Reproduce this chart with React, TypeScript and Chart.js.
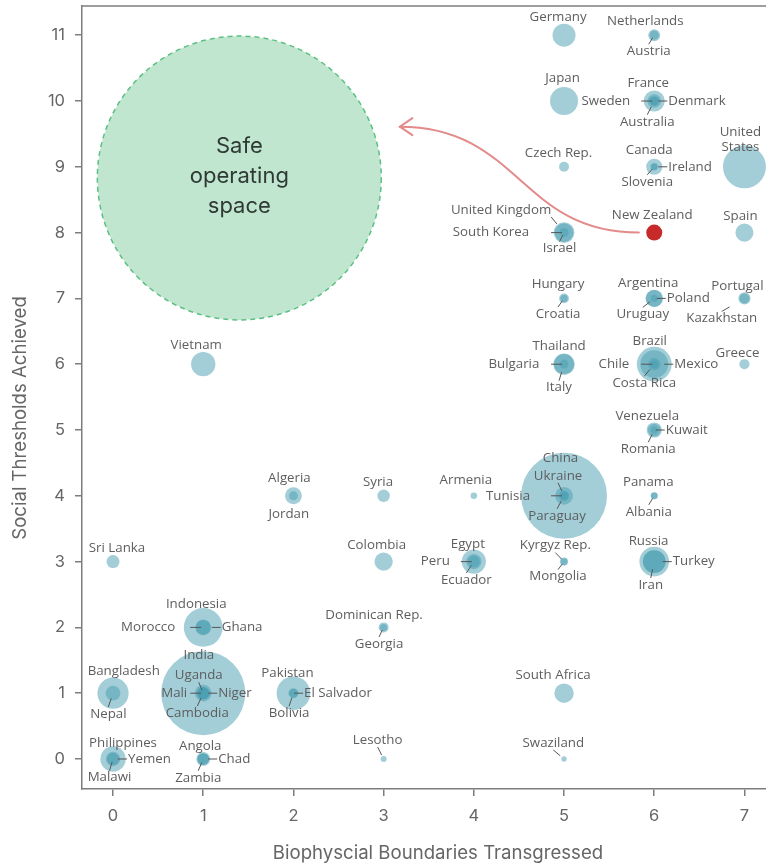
import React, { useEffect, useRef } from "react";
import { Chart, registerables, BubbleController } from "chart.js";

Chart.register(...registerables);

// bubble controller that does not reserve extra layout padding for its largest bubble
class FlatBubbleController extends BubbleController {
  getMaxOverflow() {
    return 0;
  }
}
(FlatBubbleController as any).id = "flatBubble";
(FlatBubbleController as any).defaults = (BubbleController as any).defaults;
(FlatBubbleController as any).overrides = (BubbleController as any).overrides;
Chart.register(FlatBubbleController as any);

// ---------- data ----------
const COUNTRIES = [
  "Germany", "Netherlands", "Austria", "Japan", "France", "Sweden", "Denmark", "Australia",
  "United States", "Czech Rep.", "Canada", "Ireland", "Slovenia", "United Kingdom", "South Korea", "Israel",
  "New Zealand", "Spain", "Hungary", "Croatia", "Argentina", "Poland", "Uruguay", "Portugal",
  "Kazakhstan", "Vietnam", "Thailand", "Bulgaria", "Italy", "Brazil", "Chile", "Mexico",
  "Costa Rica", "Greece", "Venezuela", "Kuwait", "Romania", "Algeria", "Jordan", "Syria",
  "Armenia", "China", "Ukraine", "Tunisia", "Paraguay", "Panama", "Albania", "Sri Lanka",
  "Colombia", "Egypt", "Peru", "Ecuador", "Kyrgyz Rep.", "Mongolia", "Russia", "Turkey",
  "Iran", "Indonesia", "Morocco", "Ghana", "Dominican Rep.", "Georgia", "Bangladesh", "Nepal",
  "India", "Uganda", "Mali", "Niger", "Cambodia", "Pakistan", "El Salvador", "Bolivia",
  "South Africa", "Lesotho", "Swaziland", "Philippines", "Yemen", "Malawi", "Angola", "Chad",
  "Zambia",
];

const BOUNDARIES = [
  5, 6, 6, 5, 6, 6, 6, 6,
  7, 5, 6, 6, 6, 5, 5, 5,
  6, 7, 5, 5, 6, 6, 6, 7,
  7, 1, 5, 5, 5, 6, 6, 6,
  6, 7, 6, 6, 6, 2, 2, 3,
  4, 5, 5, 5, 5, 6, 6, 0,
  3, 4, 4, 4, 5, 5, 6, 6,
  6, 1, 1, 1, 3, 3, 0, 0,
  1, 1, 1, 1, 1, 2, 2, 2,
  5, 3, 5, 0, 0, 0, 1, 1,
  1,
];

const THRESHOLDS = [
  11, 11, 11, 10, 10, 10, 10, 10,
  9, 9, 9, 9, 9, 8, 8, 8,
  8, 8, 7, 7, 7, 7, 7, 7,
  7, 6, 6, 6, 6, 6, 6, 6,
  6, 6, 5, 5, 5, 4, 4, 4,
  4, 4, 4, 4, 4, 4, 4, 3,
  3, 3, 3, 3, 3, 3, 3, 3,
  3, 2, 2, 2, 2, 2, 1, 1,
  1, 1, 1, 1, 1, 1, 1, 1,
  1, 0, 0, 0, 0, 0, 0, 0,
  0,
];

// population, millions
const POPULATION = [
  81, 16.9, 8.6, 127, 66, 9.7, 5.6, 23.5,
  320, 10.5, 35.5, 4.6, 2.06, 64.5, 50.4, 8.2,
  4.5, 46.4, 9.9, 4.2, 43, 38, 3.4, 10.4,
  17.5, 92, 68, 7.2, 60.7, 204, 17.8, 125,
  4.8, 10.9, 31, 3.9, 19.9, 39.7, 7.6, 18.7,
  3.0, 1371, 45, 11.1, 6.6, 3.9, 2.9, 21,
  48, 91, 31, 16, 5.9, 3.0, 144, 78.7,
  79, 258, 34, 27.4, 10.5, 3.7, 161, 28.5,
  1311, 39, 17.5, 19.9, 15.6, 189, 6.3, 10.7,
  55, 2.1, 1.3, 101, 26.8, 17.2, 25, 14,
  16,
];

const X_TICKS = [0, 1, 2, 3, 4, 5, 6, 7];
const Y_TICKS = [0, 1, 2, 3, 4, 5, 6, 7, 8, 9, 10, 11];
const HIGHLIGHT = "New Zealand";
const X_TITLE = "Biophyscial Boundaries Transgressed";
const Y_TITLE = "Social Thresholds Achieved";
const SAFE_SPACE_TEXT = ["Safe", "operating", "space"];
const LABEL_LINES: Record<string, string[]> = { "United States": ["United", "States"] };

// ---------- annotation layout ----------
// label placement per country: [align, dx, dy, leader]
// align: c = centred text, e = text ends left of point, s = text starts right of point
const LABEL_LAYOUT: [string, number, number, boolean][] = [
  ["c", -6, -18, false], ["c", -9, -14, false], ["c", -5.5, 16, true], ["c", -1.5, -22.7, false],
  ["c", -6, -17.7, false], ["e", -24, 0, true], ["s", 14, 0, true], ["c", -7, 20.7, true],
  ["c", -4, -27.5, false], ["c", -5.5, -13.5, false], ["c", -5, -17, false], ["s", 14, 0, true],
  ["c", -7, 15, true], ["c", -63, -22.6, true], ["e", -35, 0, true], ["c", -4.5, 16, true],
  ["c", -2, -17.6, false], ["c", -4, -16, false], ["c", -6, -14, false], ["c", -6, 15.6, true],
  ["c", -6, -15, false], ["s", 12.5, 0, true], ["c", -11.5, 16, true], ["c", -7, -12.4, false],
  ["c", -22.7, 20, true], ["c", -7, -19, false], ["c", -5, -18, false], ["e", -24.7, 0, true],
  ["c", -5, 23.5, true], ["c", -4.5, -22.5, false], ["e", -25, 0, true], ["s", 20, 0, true],
  ["c", -10, 19, true], ["c", -7, -11, false], ["c", -7, -14, false], ["s", 11.5, 0, true],
  ["c", -6, 19.3, true], ["c", -4, -17.5, false], ["c", -4.7, 18, false], ["c", -5.6, -14, false],
  ["c", -8, -16, false], ["c", -3.5, -37.5, false], ["c", -6, -20, true], ["e", -34, 0, true],
  ["c", -7, 20, true], ["c", -6, -13.5, false], ["c", -5.5, 16, true], ["c", 4, -13, false],
  ["c", -7, -16, false], ["c", -6, -17.3, false], ["e", -24, 0, true], ["c", -7.5, 18.4, true],
  ["c", -8.7, -16, true], ["c", -6, 15, true], ["c", -5.7, -20, false], ["s", 18.5, 0, true],
  ["c", -3.5, 23.4, true], ["c", -7, -23, false], ["e", -28, 0, true], ["s", 18.5, 0, true],
  ["c", -9.6, -12.4, false], ["c", -4.6, 16.6, true], ["c", 10.7, -22, false], ["c", -4.7, 20.8, true],
  ["c", -4.4, -38, false], ["c", -4.5, -18, true], ["e", -16, 0, true], ["s", 15, 0, true],
  ["c", -6, 20, true], ["c", -6, -20, false], ["s", 10.6, 0, true], ["c", -4.4, 20, true],
  ["c", -11, -18, false], ["c", -6, -19, true], ["c", -10.7, -16, true], ["c", 10, -16, false],
  ["s", 15, 0, true], ["c", -3.5, 18.7, true], ["c", -3, -12.6, false], ["s", 15, 0, true],
  ["c", -5, 18.8, true],
];

const SAFE_SPACE = { x: 1.4, y: 8.83, rx: 1.574 };
const ARROW_PATH = [
  [5.83, 8.0],
  [4.51, 8.0],
  [4.51, 9.61],
  [3.18, 9.61],
];

const FONT_MAIN = "Inter, 'Noto Sans', sans-serif";
const FONT_LABEL = "'Open Sans', 'Noto Sans', sans-serif";
const AXIS_COLOR = "#7d7d7d";
const TEXT_COLOR = "#666666";
const LABEL_COLOR = "#5e5e5e";

const bubbleRadius = (name: string, pop: number) =>
  name === HIGHLIGHT ? 8 : 1.36 + 1.124 * Math.sqrt(pop);

const overlayPlugin = {
  id: "overlay",
  beforeDatasetsDraw(chart: any) {
    const { ctx, scales } = chart;
    const xs = scales.x, ys = scales.y;
    const cx = xs.getPixelForValue(SAFE_SPACE.x);
    const cy = ys.getPixelForValue(SAFE_SPACE.y);
    const r = xs.getPixelForValue(SAFE_SPACE.x + SAFE_SPACE.rx) - cx;
    ctx.save();
    ctx.beginPath();
    ctx.arc(cx, cy, r, 0, Math.PI * 2);
    ctx.fillStyle = "#c0e6cf";
    ctx.fill();
    ctx.setLineDash([5, 4]);
    ctx.lineWidth = 1.5;
    ctx.strokeStyle = "#5cc083";
    ctx.stroke();
    ctx.setLineDash([]);
    ctx.fillStyle = "#2f3a34";
    ctx.font = `22px ${FONT_MAIN}`;
    ctx.textAlign = "center";
    ctx.textBaseline = "middle";
    SAFE_SPACE_TEXT.forEach((t, i) => {
      ctx.fillText(t, cx, cy - 32 + i * 30);
    });
    ctx.restore();
  },
  afterDatasetsDraw(chart: any) {
    const { ctx, scales } = chart;
    const xs = scales.x, ys = scales.y;
    ctx.save();
    // arrow
    const p = ARROW_PATH.map(([x, y]) => [xs.getPixelForValue(x), ys.getPixelForValue(y)]);
    ctx.strokeStyle = "#e38a8a";
    ctx.lineWidth = 2;
    ctx.lineCap = "round";
    ctx.beginPath();
    ctx.moveTo(p[0][0], p[0][1]);
    ctx.bezierCurveTo(p[1][0], p[1][1], p[2][0], p[2][1], p[3][0], p[3][1]);
    ctx.stroke();
    const tip = p[3];
    ctx.beginPath();
    ctx.moveTo(tip[0] + 12.5, tip[1] - 8.5);
    ctx.lineTo(tip[0], tip[1]);
    ctx.lineTo(tip[0] + 12.5, tip[1] + 8.5);
    ctx.stroke();

    // labels
    ctx.font = `13.3px ${FONT_LABEL}`;
    ctx.textBaseline = "middle";
    ctx.lineCap = "butt";
    COUNTRIES.forEach((name, i) => {
      const cx = xs.getPixelForValue(BOUNDARIES[i]);
      const cy = ys.getPixelForValue(THRESHOLDS[i]);
      const [al, dx, dy, leader] = LABEL_LAYOUT[i];
      const lines = LABEL_LINES[name] || [name];
      const lh = 15;
      const lx = cx + dx;
      const ly = cy + dy;
      ctx.fillStyle = LABEL_COLOR;
      ctx.textAlign = al === "c" ? "center" : al === "e" ? "right" : "left";
      lines.forEach((t, k) => {
        ctx.fillText(t, lx, ly - ((lines.length - 1) * lh) / 2 + k * lh);
      });
      if (!leader) return;
      ctx.strokeStyle = "#555555";
      ctx.lineWidth = 1;
      ctx.beginPath();
      if (al === "e") {
        ctx.moveTo(cx - 2, cy);
        ctx.lineTo(cx - 13, cy);
      } else if (al === "s") {
        ctx.moveTo(lx - 1, cy);
        ctx.lineTo(lx - 10, cy);
      } else {
        const w = Math.max(...lines.map((t) => ctx.measureText(t).width));
        const x1 = lx - w / 2, x2 = lx + w / 2;
        const half = 6 + ((lines.length - 1) * lh) / 2;
        const sx = cx >= x1 && cx <= x2 ? lx : Math.min(Math.max(cx, x1), x2);
        const sy = dy < 0 ? ly + half + 1 : ly - half - 1;
        const ddx = cx - sx, ddy = cy - sy;
        const dist = Math.hypot(ddx, ddy);
        const L = Math.min(9, dist - 3);
        if (L > 0) {
          ctx.moveTo(sx, sy);
          ctx.lineTo(sx + (ddx / dist) * L, sy + (ddy / dist) * L);
        }
      }
      ctx.stroke();
    });
    ctx.restore();
  },
  afterDraw(chart: any) {
    const { ctx, chartArea } = chart;
    ctx.save();
    // top frame line
    ctx.strokeStyle = AXIS_COLOR;
    ctx.lineWidth = 1.5;
    ctx.beginPath();
    ctx.moveTo(chartArea.left, chartArea.top);
    ctx.lineTo(chartArea.right, chartArea.top);
    ctx.stroke();
    // titles
    ctx.fillStyle = TEXT_COLOR;
    ctx.font = `18.6px ${FONT_MAIN}`;
    ctx.textAlign = "center";
    ctx.textBaseline = "middle";
    ctx.fillText(X_TITLE, 438, 853);
    ctx.translate(20, 418);
    ctx.rotate(-Math.PI / 2);
    ctx.fillText(Y_TITLE, 0, 0);
    ctx.restore();
  },
};

export default function App() {
  const ref = useRef<HTMLCanvasElement | null>(null);

  useEffect(() => {
    document.body.style.margin = "0";
    const canvas = ref.current;
    if (!canvas) return;

    const order = COUNTRIES.map((_, i) => i).sort((a, b) => {
      const ha = COUNTRIES[a] === HIGHLIGHT ? 1 : 0;
      const hb = COUNTRIES[b] === HIGHLIGHT ? 1 : 0;
      if (ha !== hb) return ha - hb;
      return POPULATION[b] - POPULATION[a];
    });

    const chart = new Chart(canvas, {
      type: "flatBubble" as any,
      data: {
        datasets: [
          {
            data: order.map((i) => ({
              x: BOUNDARIES[i],
              y: THRESHOLDS[i],
              r: bubbleRadius(COUNTRIES[i], POPULATION[i]),
            })),
            backgroundColor: order.map((i) =>
              COUNTRIES[i] === HIGHLIGHT ? "#c62a2a" : "rgba(72,158,178,0.5)"
            ),
            borderWidth: 0,
            hoverBorderWidth: 0,
          } as any,
        ],
      },
      options: {
        animation: false,
        responsive: false,
        devicePixelRatio: 1,
        events: [],
        layout: { padding: { top: 6, right: 0, left: 0, bottom: 0 } },
        plugins: {
          legend: { display: false },
          tooltip: { enabled: false },
        },
        scales: {
          x: {
            type: "linear",
            min: -0.344,
            max: 7.239,
            afterFit: (s: any) => {
              s.height = 74;
              s.paddingLeft = 0;
              s.paddingRight = 0;
            },
            afterBuildTicks: (s: any) => {
              s.ticks = X_TICKS.map((v) => ({ value: v }));
            },
            ticks: {
              color: TEXT_COLOR,
              font: { family: FONT_MAIN, size: 16.5 },
              padding: 10,
              callback: (v: any) => String(v),
            },
            grid: {
              drawOnChartArea: false,
              drawTicks: true,
              tickLength: 7,
              color: AXIS_COLOR,
              lineWidth: 1.5,
            },
            border: { display: true, color: AXIS_COLOR, width: 1.5 },
          },
          y: {
            type: "linear",
            min: -0.456,
            max: 11.444,
            afterFit: (s: any) => {
              s.width = 82;
              s.paddingTop = 0;
              s.paddingBottom = 0;
            },
            afterBuildTicks: (s: any) => {
              s.ticks = Y_TICKS.map((v) => ({ value: v }));
            },
            ticks: {
              color: TEXT_COLOR,
              font: { family: FONT_MAIN, size: 16.5 },
              padding: 10,
              callback: (v: any) => String(v),
            },
            grid: {
              drawOnChartArea: false,
              drawTicks: true,
              tickLength: 7,
              color: AXIS_COLOR,
              lineWidth: 1.5,
            },
            border: { display: true, color: AXIS_COLOR, width: 1.5 },
          },
        },
      },
      plugins: [overlayPlugin],
    });

    return () => chart.destroy();
  }, []);

  return (
    <div style={{ width: 766, height: 863 }}>
      <canvas ref={ref} width={766} height={863} style={{ display: "block" }} />
    </div>
  );
}
